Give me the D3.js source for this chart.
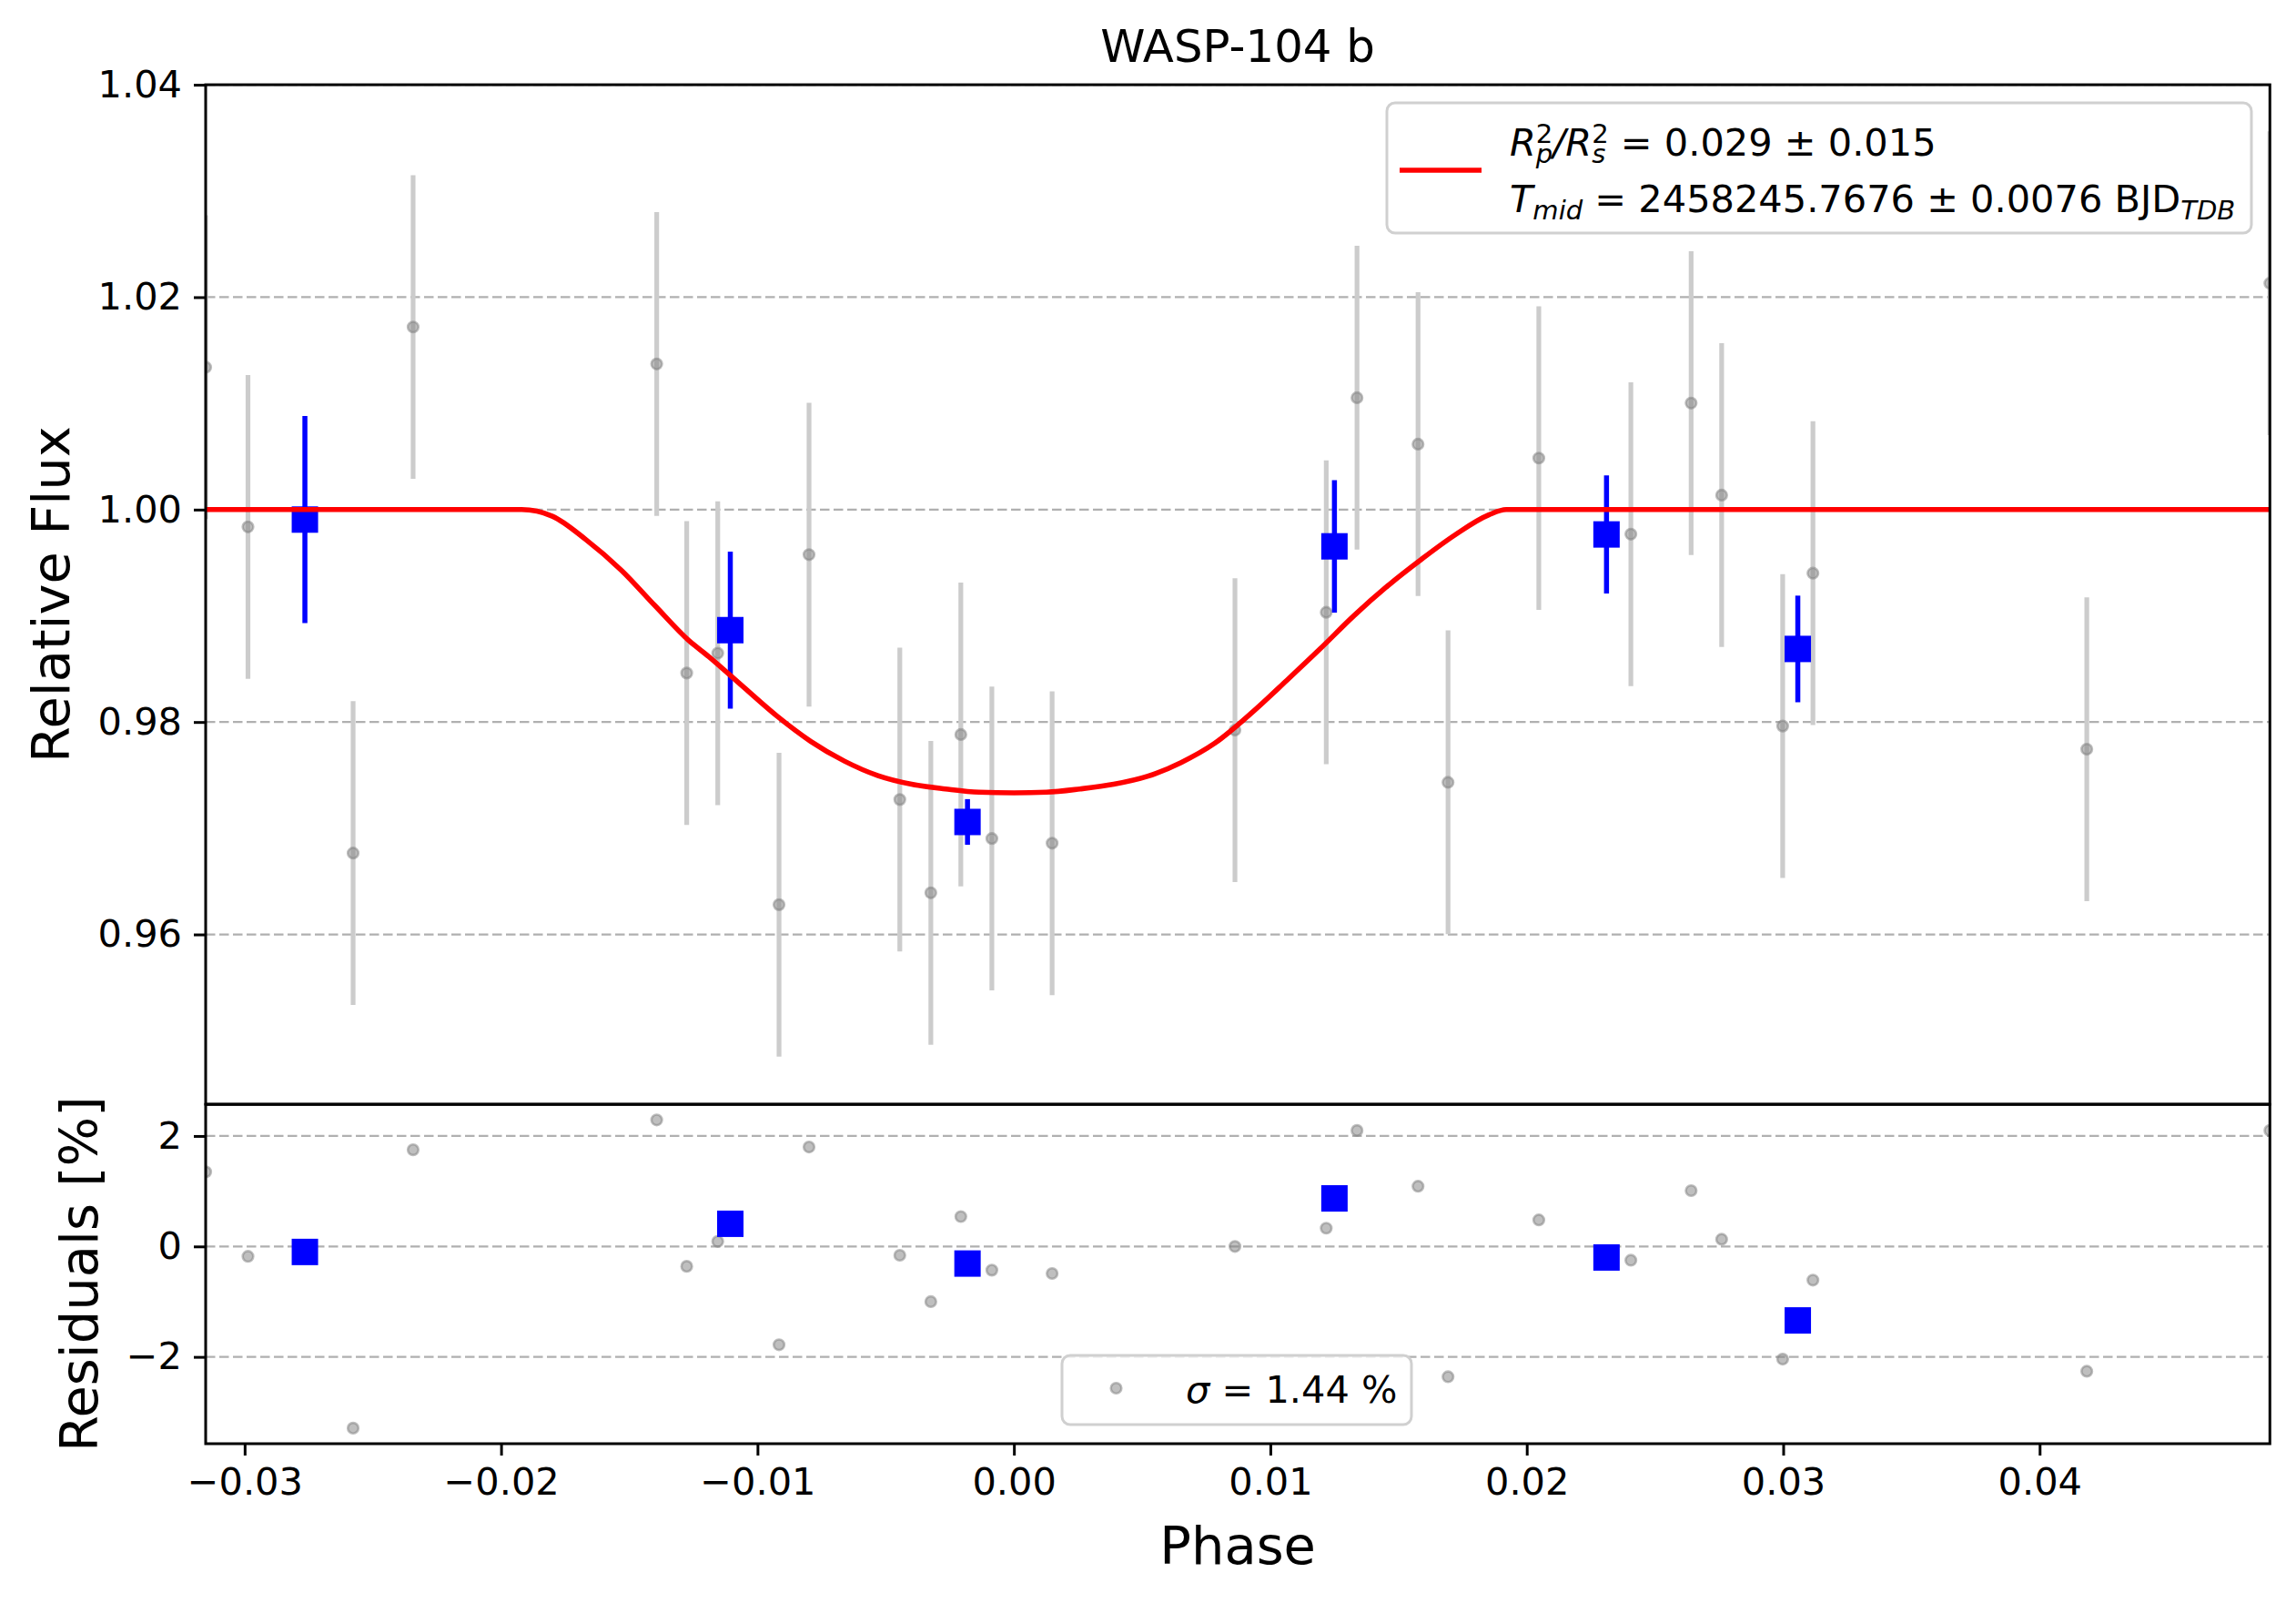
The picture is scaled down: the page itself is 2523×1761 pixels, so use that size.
<!DOCTYPE html>
<html>
<head>
<meta charset="utf-8">
<script src="https://cdn.jsdelivr.net/npm/d3@7"></script>
<style>
  html, body { margin: 0; padding: 0; background: #fff; }
  text { font-family: "DejaVu Sans", sans-serif; }
</style>
</head>
<body>
<svg id="chart" width="2523" height="1761"></svg>
<script>
// ---------------- data ----------------
const phase = [-0.03152, -0.02987, -0.02577, -0.02343, -0.01393, -0.01276, -0.01155, -0.00916, -0.00799,
  -0.00445, -0.00324, -0.00207, -0.00086, 0.00149, 0.00862, 0.01218, 0.01338, 0.01576, 0.01693,
  0.02047, 0.02406, 0.02641, 0.0276, 0.02998, 0.03116, 0.04184, 0.04898];
const flux = [1.0134, 0.99837, 0.96766, 1.01719, 1.01371, 0.98461, 0.98648, 0.9628, 0.99576,
  0.9727, 0.96392, 0.97882, 0.96903, 0.96859, 0.97924, 0.99033, 1.01053, 1.00616, 0.97432,
  1.00485, 0.99769, 1.01003, 1.00136, 0.97962, 0.99401, 0.97744, 1.02131];
const fluxErr = [0.0143, 0.0143, 0.0143, 0.0143, 0.0143, 0.0143, 0.0143, 0.0143, 0.0143,
  0.0143, 0.0143, 0.0143, 0.0143, 0.0143, 0.0143, 0.0143, 0.0143, 0.0143, 0.0143,
  0.0143, 0.0143, 0.0143, 0.0143, 0.0143, 0.0143, 0.0143, 0.0143];
const resid = [1.35, -0.18, -3.29, 1.75, 2.29, -0.36, 0.09, -1.78, 1.80,
  -0.16, -1.00, 0.54, -0.43, -0.49, 0.00, 0.33, 2.10, 1.09, -2.36,
  0.48, -0.25, 1.01, 0.13, -2.04, -0.61, -2.26, 2.10];

const binPhase = [-0.02765, -0.01106, -0.00181, 0.0125, 0.02311, 0.03057];
const binFlux = [0.99906, 0.98865, 0.97059, 0.99654, 0.99766, 0.98688];
const binErr = [0.00975, 0.00739, 0.00215, 0.00623, 0.00555, 0.00502];
const binResid = [-0.10, 0.41, -0.31, 0.87, -0.20, -1.34];

const modelPhase = [-0.0316, -0.0192, -0.0180, -0.0167, -0.0153, -0.0140, -0.0127, -0.0119, -0.01055,
  -0.00924, -0.00793, -0.00661, -0.0053, -0.00399, -0.00267, -0.00136, 0.0, 0.00127, 0.00258,
  0.00389, 0.0052, 0.00652, 0.00783, 0.00933, 0.01064, 0.01195, 0.01327, 0.01458, 0.01589,
  0.01721, 0.01852, 0.0192, 0.0491];
const modelFlux = [1.0, 1.0, 0.99938, 0.99719, 0.99427, 0.99096, 0.98772, 0.98616, 0.98330,
  0.98056, 0.97819, 0.97632, 0.97495, 0.97414, 0.97370, 0.97339, 0.97333, 0.97339, 0.97370,
  0.97414, 0.97488, 0.97619, 0.97800, 0.98099, 0.98392, 0.98691, 0.99003, 0.99283, 0.99532,
  0.99763, 0.99950, 1.0, 1.0];

const xTicks = [-0.03, -0.02, -0.01, 0.00, 0.01, 0.02, 0.03, 0.04];
const yTicksTop = [0.96, 0.98, 1.00, 1.02, 1.04];
const yTicksRes = [-2, 0, 2];

const titleText = "WASP-104 b";
const sigmaText = " = 1.44 %";

// ---------------- layout ----------------
const L = 226, R = 2494.3, T1 = 93.1, B1 = 1213, T2 = 1213.3, B2 = 1586;
const svg = d3.select("#chart");
svg.append("rect").attr("width", 2523).attr("height", 1761).attr("fill", "#fff");

const x = d3.scaleLinear().domain(d3.extent(phase)).range([L, R]);
const yTop = d3.scaleLinear().domain([0.94402, 1.04]).range([B1, T1]);
const yRes = d3.scaleLinear().domain([-3.572, 2.571]).range([B2, T2]);

const TICKF = 41.5, LABF = 57.5, LEGF = 41.5, TITF = 49.8;
const GRID = "#b0b0b0";

const defs = svg.append("defs");
defs.append("clipPath").attr("id", "clipTop").append("rect")
  .attr("x", L).attr("y", T1).attr("width", R - L).attr("height", B1 - T1);
defs.append("clipPath").attr("id", "clipRes").append("rect")
  .attr("x", L).attr("y", T2).attr("width", R - L).attr("height", B2 - T2);

// ---------------- top panel ----------------
const gTop = svg.append("g").attr("clip-path", "url(#clipTop)");
gTop.selectAll("line.grid").data(yTicksTop).join("line")
  .attr("x1", L).attr("x2", R).attr("y1", d => yTop(d)).attr("y2", d => yTop(d))
  .attr("stroke", GRID).attr("stroke-width", 2.3).attr("stroke-dasharray", "10.5,4.5");

const idx = d3.range(phase.length);
gTop.selectAll("line.err").data(idx).join("line")
  .attr("x1", i => x(phase[i])).attr("x2", i => x(phase[i]))
  .attr("y1", i => yTop(flux[i] - fluxErr[i])).attr("y2", i => yTop(flux[i] + fluxErr[i]))
  .attr("stroke", "#cccccc").attr("stroke-width", 5.2);
gTop.selectAll("circle.pt").data(idx).join("circle")
  .attr("cx", i => x(phase[i])).attr("cy", i => yTop(flux[i])).attr("r", 5.8)
  .attr("fill", "gray").attr("fill-opacity", 0.5)
  .attr("stroke", "gray").attr("stroke-opacity", 0.5).attr("stroke-width", 2.6);

const bidx = d3.range(binPhase.length);
gTop.selectAll("line.berr").data(bidx).join("line")
  .attr("x1", i => x(binPhase[i])).attr("x2", i => x(binPhase[i]))
  .attr("y1", i => yTop(binFlux[i] - binErr[i])).attr("y2", i => yTop(binFlux[i] + binErr[i]))
  .attr("stroke", "blue").attr("stroke-width", 5.5);
const SQ = 29;
gTop.selectAll("rect.bin").data(bidx).join("rect")
  .attr("x", i => x(binPhase[i]) - SQ / 2).attr("y", i => yTop(binFlux[i]) - SQ / 2)
  .attr("width", SQ).attr("height", SQ).attr("fill", "blue");

const modelLine = d3.line().x(d => x(d[0])).y(d => yTop(d[1])).curve(d3.curveMonotoneX);
gTop.append("path").datum(modelPhase.map((p, i) => [p, modelFlux[i]]))
  .attr("d", modelLine).attr("fill", "none").attr("stroke", "red").attr("stroke-width", 5.6)
  .attr("stroke-linejoin", "round");

// ---------------- residual panel ----------------
const gRes = svg.append("g").attr("clip-path", "url(#clipRes)");
gRes.selectAll("line.grid").data(yTicksRes).join("line")
  .attr("x1", L).attr("x2", R).attr("y1", d => yRes(d)).attr("y2", d => yRes(d))
  .attr("stroke", GRID).attr("stroke-width", 2.3).attr("stroke-dasharray", "10.5,4.5");
gRes.selectAll("circle.pt").data(idx).join("circle")
  .attr("cx", i => x(phase[i])).attr("cy", i => yRes(resid[i])).attr("r", 5.8)
  .attr("fill", "gray").attr("fill-opacity", 0.5)
  .attr("stroke", "gray").attr("stroke-opacity", 0.5).attr("stroke-width", 2.6);
gRes.selectAll("rect.bin").data(bidx).join("rect")
  .attr("x", i => x(binPhase[i]) - SQ / 2).attr("y", i => yRes(binResid[i]) - SQ / 2)
  .attr("width", SQ).attr("height", SQ).attr("fill", "blue");

// ---------------- axes ----------------
function styleAxis(g) {
  g.select(".domain").remove();
  g.selectAll(".tick line").attr("stroke", "#000").attr("stroke-width", 3);
  g.selectAll(".tick text").attr("fill", "#000").style("font-size", TICKF + "px")
    .style("font-family", "DejaVu Sans");
}
const fmt2 = d3.format(".2f");
const fmtInt = d3.format("d");
svg.append("g").attr("transform", `translate(${L},0)`)
  .call(d3.axisLeft(yTop).tickValues(yTicksTop).tickFormat(fmt2).tickSize(13).tickPadding(13))
  .call(styleAxis);
svg.append("g").attr("transform", `translate(${L},0)`)
  .call(d3.axisLeft(yRes).tickValues(yTicksRes).tickFormat(fmtInt).tickSize(13).tickPadding(13))
  .call(styleAxis);
const xAxisG = svg.append("g").attr("transform", `translate(0,${B2})`)
  .call(d3.axisBottom(x).tickValues(xTicks).tickFormat(fmt2).tickSize(13).tickPadding(13))
  .call(styleAxis);
xAxisG.selectAll(".tick text").attr("dy", null).attr("y", 56);

// spines
svg.append("rect").attr("x", L).attr("y", T1).attr("width", R - L).attr("height", B1 - T1)
  .attr("fill", "none").attr("stroke", "#000").attr("stroke-width", 3);
svg.append("rect").attr("x", L).attr("y", T2).attr("width", R - L).attr("height", B2 - T2)
  .attr("fill", "none").attr("stroke", "#000").attr("stroke-width", 3);

// labels
svg.append("text").attr("x", (L + R) / 2).attr("y", 67.5).attr("text-anchor", "middle")
  .style("font-size", TITF + "px").text(titleText);
svg.append("text").attr("x", (L + R) / 2).attr("y", 1718).attr("text-anchor", "middle")
  .style("font-size", LABF + "px").text("Phase");
svg.append("text").attr("transform", `translate(76,${(T1 + B1) / 2}) rotate(-90)`)
  .attr("text-anchor", "middle").style("font-size", LABF + "px").text("Relative Flux");
svg.append("text").attr("transform", `translate(107,${(T2 + B2) / 2}) rotate(-90)`)
  .attr("text-anchor", "middle").style("font-size", LABF + "px").text("Residuals [%]");

// ---------------- legends ----------------
// one <text> per line; sub/superscripts are tspans (stacked pairs share an x position)
function mathText(g, x0, y0, pieces, size) {
  const t = g.append("text").attr("x", x0).attr("y", y0)
    .style("font-size", size + "px").style("white-space", "pre").attr("fill", "#000");
  let curDy = 0;
  function add(p, dx) {
    const target = p.dy || 0;
    const ts = t.append("tspan")
      .style("font-size", (size * (p.sc || 1)) + "px")
      .style("font-style", p.it ? "italic" : "normal")
      .attr("dx", dx).attr("dy", target - curDy).text(p.t);
    curDy = target;
    return ts.node().getComputedTextLength();
  }
  let pending = 0;
  pieces.forEach(p => {
    if (p.stack) {
      const w1 = add(p.stack[0], pending);
      const w2 = add(p.stack[1], -w1);
      pending = Math.max(0, w1 - w2);
    } else {
      add(p, pending);
      pending = 0;
    }
  });
  return t;
}

const leg1 = svg.append("g");
leg1.append("rect").attr("x", 1524).attr("y", 113).attr("width", 950).attr("height", 143)
  .attr("rx", 9).attr("fill", "#fff").attr("fill-opacity", 0.8)
  .attr("stroke", "#d0d0d0").attr("stroke-width", 3);
leg1.append("line").attr("x1", 1538).attr("x2", 1628).attr("y1", 187).attr("y2", 187)
  .attr("stroke", "red").attr("stroke-width", 5.6);
mathText(leg1, 1659, 171, [
  { t: "R", it: true },
  { stack: [{ t: "2", sc: 0.7, dy: -14 }, { t: "p", it: true, sc: 0.7, dy: 8 }] },
  { t: "/", it: true },
  { t: "R", it: true },
  { stack: [{ t: "2", sc: 0.7, dy: -14 }, { t: "s", it: true, sc: 0.7, dy: 8 }] },
  { t: " = 0.029 ± 0.015" }
], LEGF);
mathText(leg1, 1659, 233, [
  { t: "T", it: true },
  { t: "mid", it: true, sc: 0.7, dy: 8 },
  { t: " = 2458245.7676 ± 0.0076 BJD" },
  { t: "TDB", it: true, sc: 0.7, dy: 8 }
], LEGF);

const leg2 = svg.append("g");
leg2.append("rect").attr("x", 1167).attr("y", 1489).attr("width", 384).attr("height", 76)
  .attr("rx", 9).attr("fill", "#fff").attr("fill-opacity", 0.8)
  .attr("stroke", "#d0d0d0").attr("stroke-width", 3);
leg2.append("circle").attr("cx", 1226.5).attr("cy", 1525).attr("r", 5.8)
  .attr("fill", "gray").attr("fill-opacity", 0.5)
  .attr("stroke", "gray").attr("stroke-opacity", 0.5).attr("stroke-width", 2.6);
mathText(leg2, 1303, 1541, [{ t: "σ", it: true }, { t: sigmaText }], LEGF);
</script>
</body>
</html>
